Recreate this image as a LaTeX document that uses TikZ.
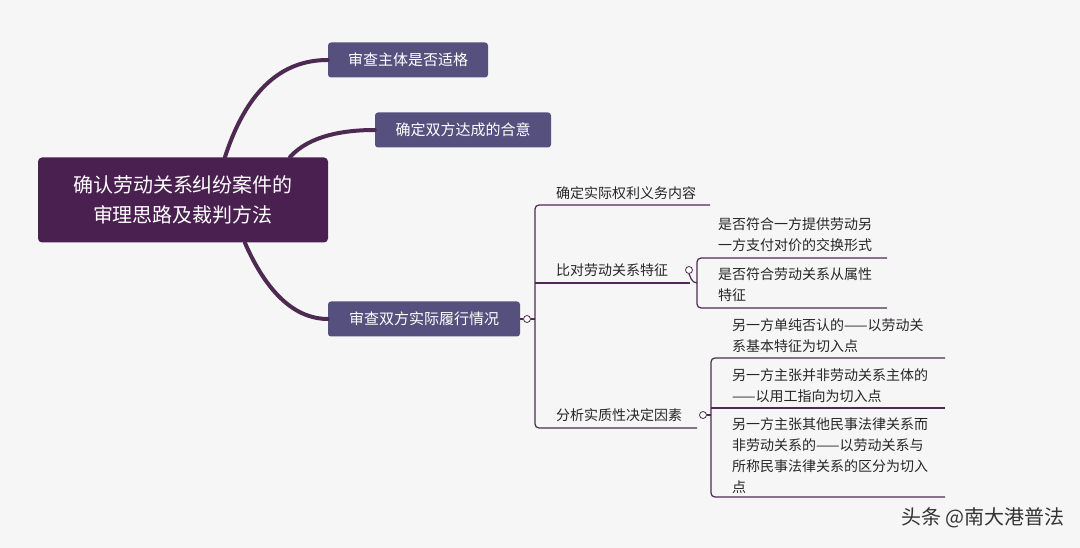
\documentclass[tikz,border=0pt]{standalone}
\usepackage{fontspec}
\setmainfont{Noto Sans CJK SC}
\usetikzlibrary{positioning, calc}
\definecolor{rootcol}{HTML}{4A2050}
\definecolor{topiccol}{HTML}{56507E}
\definecolor{linecol}{HTML}{4E2A52}
\definecolor{bgcol}{HTML}{F7F6F7}
\tikzset{
  rootbox/.style={fill=rootcol, rounded corners=4pt, text=white, minimum width=290pt,
    minimum height=85pt, align=center, font=\fontsize{20}{30}\selectfont},
  topicbox/.style={fill=topiccol, rounded corners=3pt, text=white, minimum height=35pt,
    inner xsep=0pt, font=\fontsize{15}{18}\selectfont},
  subtext/.style={anchor=west, align=left, inner sep=0pt, font=\fontsize{14}{21}\selectfont, text=black!85},
  bigline/.style={draw=linecol, line width=4pt, line cap=round},
  thinline/.style={draw=linecol, line width=1.2pt, rounded corners=4pt},
  knob/.style={circle, draw=linecol, line width=0.8pt, fill=white, inner sep=0pt, minimum size=7pt}
}
\begin{document}
\begin{tikzpicture}[x=1pt, y=-1pt]
\fill[bgcol] (0,0) rectangle (1080,548);

% main topics
\node[rootbox] (root) at (183,200) {确认劳动关系纠纷案件的\\审理思路及裁判方法};
\node[topicbox, minimum width=160pt] (t1) at (408,60) {审查主体是否适格};
\node[topicbox, minimum width=176pt] (t2) at (463,130) {确定双方达成的合意};
\node[topicbox, minimum width=192pt] (t3) at (424,319) {审查双方实际履行情况};

\draw[bigline] (225,157) .. controls (250,80) and (290,60) .. (t1.west);
\draw[bigline] (290,157) .. controls (310,135) and (345,130) .. (t2.west);
\draw[bigline] (245,243) .. controls (270,300) and (300,319) .. (t3.west);

% second level
\node[knob] (k3) at (527,319) {};
\draw[thinline] (t3.east) -- (k3.west);
\node[subtext] (s1) at (556,193) {确定实际权利义务内容};
\node[subtext] (s2) at (556,270) {比对劳动关系特征};
\node[subtext] (s3) at (556,415) {分析实质性决定因素};
\draw[thinline] (k3.east) -- (535,319);
\draw[thinline] (710,205) -- (535,205) -- (535,428) -- (697,428);
\draw[thinline] (535,283) -- (690,283);
\node[knob] (k2) at (689,270) {};
\node[knob] (k3b) at (703,415) {};

% third level: features
\node[subtext] (f1) at (718,235) {是否符合一方提供劳动另\\一方支付对价的交换形式};
\node[subtext] (f2) at (718,285) {是否符合劳动关系从属性\\特征};
\draw[thinline] (887,258) -- (697,258) -- (697,308) -- (887,308);
\draw[thinline] (k2.south) -- (693,283) -- (697,283);

% third level: factors
\node[subtext] (g1) at (732,336) {另一方单纯否认的——以劳动关\\系基本特征为切入点};
\node[subtext] (g2) at (732,386) {另一方主张并非劳动关系主体的\\——以用工指向为切入点};
\node[subtext] (g3) at (732,456) {另一方主张其他民事法律关系而\\非劳动关系的——以劳动关系与\\所称民事法律关系的区分为切入\\点};
\draw[thinline] (945,358) -- (711,358) -- (711,497) -- (945,497);
\draw[thinline] (711,408) -- (945,408);
\draw[thinline] (k3b.east) -- (711,415);

% watermark
\node[anchor=east, text=black!80, font=\fontsize{20}{24}\selectfont] (wm) at (1068,518) {头条 @南大港普法};
\end{tikzpicture}
\end{document}
